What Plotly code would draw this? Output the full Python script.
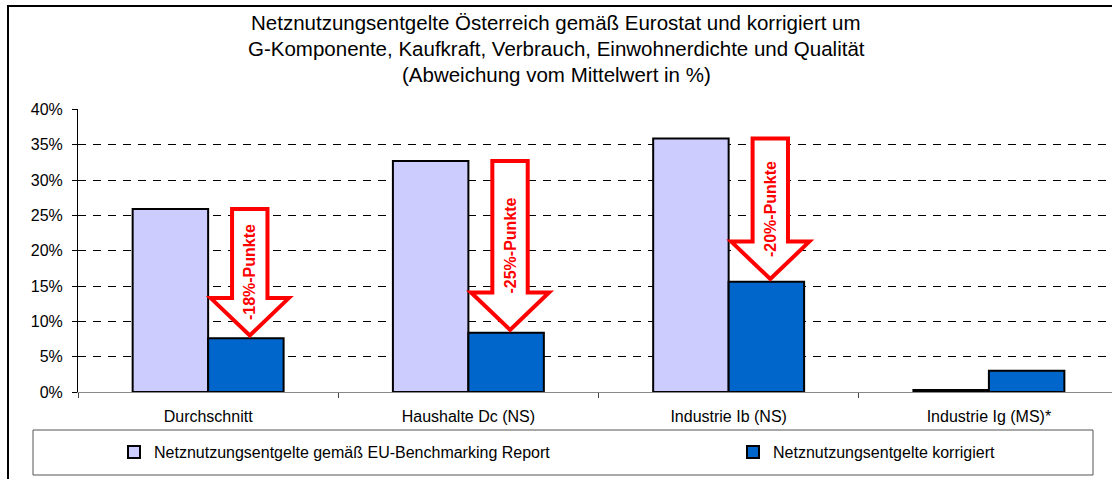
import plotly.graph_objects as go

categories = ["Durchschnitt", "Haushalte Dc (NS)", "Industrie Ib (NS)", "Industrie Ig (MS)*"]
eurostat = [25.9, 32.7, 35.9, 0.3]
korrigiert = [7.6, 8.4, 15.6, 3.0]
series_names = ["Netznutzungsentgelte gemäß EU-Benchmarking Report",
                "Netznutzungsentgelte korrigiert"]
drop_labels = ["-18%-Punkte", "-25%-Punkte", "-20%-Punkte"]
y_ticks = [0, 5, 10, 15, 20, 25, 30, 35, 40]
title_lines = ["Netznutzungsentgelte Österreich gemäß Eurostat und korrigiert um",
               "G-Komponente, Kaufkraft, Verbrauch, Einwohnerdichte und Qualität",
               "(Abweichung vom Mittelwert in %)"]

W, H = 1112, 479
L, R, T, B = 78, 1112, 109, 392
FONT = "Liberation Sans, Arial, sans-serif"


def px_x(p):
    return (p - L) / (R - L)


def px_y(p):
    return (B - p) / (B - T)


fig = go.Figure()
fig.add_trace(go.Bar(x=categories, y=eurostat, name=series_names[0], legend="legend",
                     marker=dict(color="#CCCCFF", line=dict(color="black", width=2))))
fig.add_trace(go.Bar(x=categories, y=korrigiert, name=series_names[1], legend="legend2",
                     marker=dict(color="#0066CC", line=dict(color="black", width=2))))

# red outlined arrows from the original value down to the corrected one
shapes = []
annotations = []
for i, lab in enumerate(drop_labels):
    c = i + 0.16
    top = eurostat[i]
    tip = korrigiert[i] + 0.4
    neck = tip + 5.3
    sw, hw = 0.068, 0.15
    path = (f"M {c-sw},{top} L {c+sw},{top} L {c+sw},{neck} L {c+hw},{neck} "
            f"L {c},{tip} L {c-hw},{neck} L {c-sw},{neck} Z")
    shapes.append(dict(type="path", xref="x", yref="y", path=path,
                       line=dict(color="#FF0000", width=4), fillcolor="white"))
    annotations.append(dict(x=c, y=(top + tip) / 2, xref="x", yref="y", text=f"<b>{lab}</b>",
                            textangle=-90, showarrow=False,
                            font=dict(family=FONT, size=16, color="#FF0000")))

# outer chart frame and legend box
shapes.append(dict(type="rect", xref="paper", yref="paper", layer="below",
                   x0=px_x(8), x1=px_x(1125), y0=px_y(490), y1=px_y(6),
                   line=dict(color="black", width=2)))
shapes.append(dict(type="rect", xref="paper", yref="paper",
                   x0=px_x(33), x1=px_x(1093), y0=px_y(475), y1=px_y(430),
                   line=dict(color="#555555", width=1)))

for k, line in enumerate(title_lines):
    annotations.append(dict(x=px_x(556), y=px_y(22 + 26 * k), xref="paper", yref="paper",
                            text=line, showarrow=False, xanchor="center", yanchor="middle",
                            font=dict(family=FONT, size=20.5, color="black")))

legend_style = dict(orientation="h", xanchor="left", yanchor="middle", y=px_y(452),
                    font=dict(family=FONT, size=16, color="black"), bgcolor="rgba(0,0,0,0)")

fig.update_layout(
    width=W, height=H,
    margin=dict(l=L, r=W - R, t=T, b=H - B),
    paper_bgcolor="white", plot_bgcolor="white",
    font=dict(family=FONT, color="black"),
    barmode="group", bargap=0.42, bargroupgap=0,
    showlegend=True,
    legend=dict(x=px_x(114), **legend_style),
    legend2=dict(x=px_x(733), **legend_style),
    shapes=shapes,
    annotations=annotations,
)
fig.update_xaxes(range=[-0.5, 3.473], showline=True, linecolor="#888888", linewidth=1,
                 tickson="boundaries", ticks="outside", ticklen=5, tickcolor="#444444",
                 ticklabelstandoff=10,
                 tickfont=dict(family=FONT, size=16, color="black"), showgrid=False)
fig.update_yaxes(range=[0, 40.08], tickvals=y_ticks, ticktext=[f"{v}%" for v in y_ticks],
                 showline=True, linecolor="black",
                 linewidth=1, ticks="outside", ticklen=5, tickcolor="black",
                 ticklabelstandoff=6,
                 tickfont=dict(family=FONT, size=16, color="black"),
                 showgrid=True, gridcolor="black", gridwidth=1, griddash="8px,7px",
                 zeroline=False)

fig.write_html("out.html", config={"displayModeBar": False},
               post_script="document.body.style.margin='0px';")
